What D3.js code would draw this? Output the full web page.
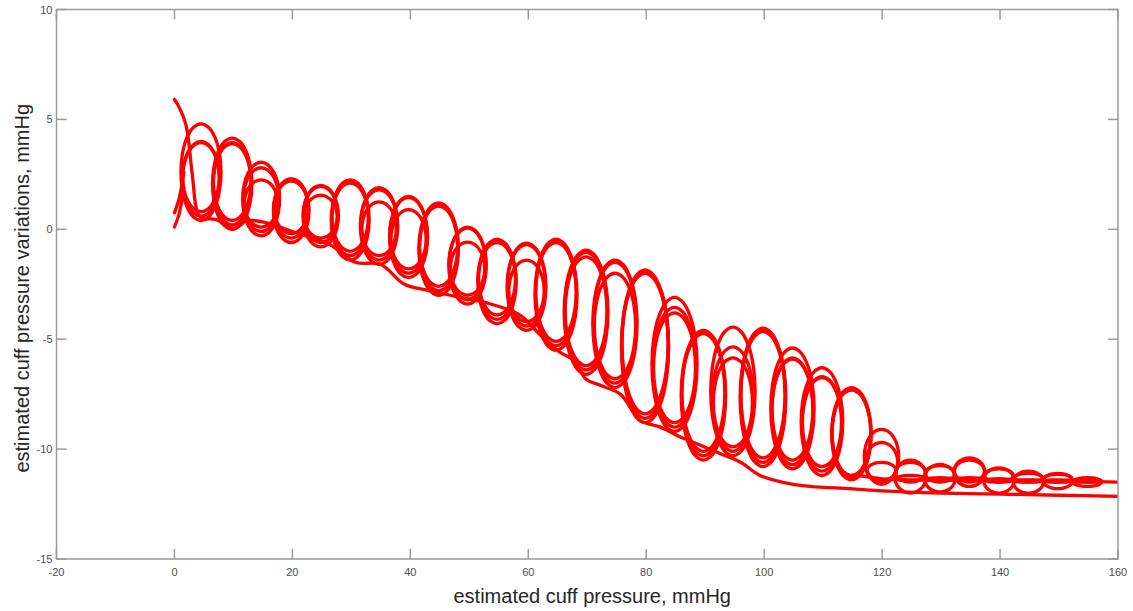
<!DOCTYPE html>
<html>
<head>
<meta charset="utf-8">
<script src="https://cdn.jsdelivr.net/npm/d3@7/dist/d3.min.js"></script>
<style>
  html, body { margin: 0; padding: 0; background: #fff; }
  svg { display: block; }
  .tick-label { font-family: "Liberation Sans", Arial, sans-serif; font-size: 11px; fill: #4d4d4d; }
  .axis-title { font-family: "Liberation Sans", Arial, sans-serif; fill: #262626; }
</style>
</head>
<body>
<svg id="chart" width="1133" height="611"></svg>
<script>
// Cuff pressure (mmHg) at which each beat peaks
const beatPressure = [4.5, 9.8, 14.7, 19.8, 24.8, 29.8, 34.7, 39.7, 44.8, 49.7, 54.7, 59.7, 64.7, 69.8, 74.7,
  79.8, 84.8, 89.7, 94.7, 99.8, 104.8, 109.8, 114.8, 119.9, 124.8, 129.8, 134.8, 139.8, 144.8, 149.8, 154.8];

// Beat maxima for the three recordings (mmHg)
const peakA = [4.8, 4.15, 3.05, 2.3, 2.0, 2.25, 1.9, 1.5, 1.2, 0.1, -0.45, -0.63, -0.45, -0.95, -1.4,
  -1.85, -3.1, -4.6, -4.45, -4.5, -5.4, -6.3, -7.2, -9.1, -10.5, -10.7, -10.4, -10.85, -11.0, -11.1, -11.3];
const peakB = [4.0, 3.95, 2.8, 2.2, 1.95, 2.15, 1.8, 1.45, 1.1, 0.05, -0.55, -0.7, -0.55, -1.05, -1.5,
  -1.95, -3.55, -4.7, -5.35, -4.6, -5.85, -6.7, -7.3, -9.7, -10.6, -10.75, -10.5, -10.9, -11.1, -11.15, -11.35];
const peakC = [3.95, 3.9, 2.25, 2.2, 1.55, 2.1, 1.25, 0.9, 1.05, -0.58, -0.6, -1.4, -0.6, -1.25, -2.0,
  -2.0, -3.8, -4.75, -5.85, -4.65, -5.9, -6.75, -7.3, -10.6, -11.2, -11.3, -11.3, -11.35, -11.4, -11.4, -11.45];

// Beat minima for the three recordings (mmHg)
const troughA = [0.4, 0.0, -0.3, -0.6, -0.8, -1.4, -1.6, -2.2, -3.0, -3.4, -4.3, -4.6, -5.5, -6.6, -7.2,
  -8.8, -9.2, -10.5, -10.3, -10.8, -10.9, -11.2, -11.4, -11.6, -12.0, -11.95, -11.7, -12.0, -12.0, -11.8, -11.7];
const troughB = [0.6, 0.2, -0.1, -0.4, -0.6, -1.2, -1.4, -2.0, -2.8, -3.2, -4.1, -4.4, -5.3, -6.4, -7.0,
  -8.6, -9.0, -10.3, -10.1, -10.6, -10.7, -11.0, -11.3, -11.5, -11.5, -11.5, -11.5, -11.5, -11.5, -11.5, -11.5];
const troughC = [0.8, 0.4, 0.1, -0.2, -0.4, -1.0, -1.2, -1.8, -2.6, -3.0, -3.9, -4.2, -5.1, -6.2, -6.8,
  -8.4, -8.8, -10.1, -9.9, -10.4, -10.5, -10.8, -11.2, -11.4, -11.45, -11.45, -11.45, -11.5, -11.5, -11.5, -11.5];

// Lower envelope recording (starts high at zero cuff pressure)
const floorPressure = [0, 0.5, 1.9, 3.0, 3.9, 4.7, 7, 10, 12.4, 15.8, 20, 26.4, 30.7, 35, 39, 43.4, 48.5, 53.6,
  58.6, 62, 65.4, 68, 69.7, 72.2, 75.6, 79, 82.4, 85.8, 89, 92.5, 96, 99.3, 103, 107.8, 114.6, 120, 130, 140, 150, 160];
const floorValue = [5.9, 5.7, 4.8, 2.55, 0.75, 0.5, 0.45, 0.05, 0.4, 0.28, -0.1, -0.7, -1.5, -1.6, -2.5, -2.8, -3.1, -3.4,
  -3.9, -4.8, -5.6, -6.0, -6.8, -7.1, -7.5, -8.7, -9.0, -9.45, -9.8, -10.2, -10.6, -11.2, -11.5, -11.7, -11.8, -11.9, -12.0, -12.05, -12.1, -12.15];

// Onset of the two pulsatile recordings
const onsetPressure = [0, 0.8, 1.6];
const onsetA = [0.75, 1.4, 2.6];
const onsetB = [0.1, 0.7, 1.9];

// Settled level after the last large beats
const shelfPressure = [116, 120, 130, 140, 150, 160];
const shelfValue = [-11.2, -11.35, -11.4, -11.4, -11.45, -11.5];

const xTicks = [-20, 0, 20, 40, 60, 80, 100, 120, 140, 160];
const yTicks = [-15, -10, -5, 0, 5, 10];

const svg = d3.select("#chart");
const x = d3.scaleLinear().domain([-20, 160]).range([56.5, 1118]);
const y = d3.scaleLinear().domain([-15, 10]).range([559, 9.5]);

svg.append("defs").append("clipPath").attr("id", "plot-clip")
  .append("rect").attr("x", x(-20)).attr("y", y(10))
  .attr("width", x(160) - x(-20)).attr("height", y(-15) - y(10));

const plot = svg.append("g").attr("clip-path", "url(#plot-clip)");
const RED = "#ff0000";
const LW = 3.3;

// One closed elliptical loop per beat; taller beats swing wider and overlap their neighbours
const loopAngles = d3.range(0, 360, 22.5).map(a => a * Math.PI / 180);
function beatLoop(c, top, bot) {
  const mid = (top + bot) / 2, r = (top - bot) / 2;
  const w = Math.min(4.0, 2.3 + 0.25 * (top - bot));
  return loopAngles.map(a => [c + w * Math.sin(a), mid + r * Math.cos(a)]);
}

const loopLine = d3.line().x(d => x(d[0])).y(d => y(d[1])).curve(d3.curveCatmullRomClosed.alpha(0.5));
const openLine = d3.line().x(d => x(d[0])).y(d => y(d[1])).curve(d3.curveCatmullRom.alpha(0.5));

[[peakA, troughA], [peakB, troughB], [peakC, troughC]].forEach(([peaks, troughs]) => {
  plot.append("g").selectAll("path")
    .data(beatPressure.map((c, i) => beatLoop(c, peaks[i], troughs[i])))
    .join("path")
    .attr("d", loopLine)
    .attr("fill", "none")
    .attr("stroke", RED)
    .attr("stroke-width", LW)
    .attr("stroke-linejoin", "round");
});

const openSeries = [
  d3.zip(floorPressure, floorValue),
  d3.zip(onsetPressure, onsetA),
  d3.zip(onsetPressure, onsetB),
  d3.zip(shelfPressure, shelfValue)
];
plot.append("g").selectAll("path")
  .data(openSeries)
  .join("path")
  .attr("d", openLine)
  .attr("fill", "none")
  .attr("stroke", RED)
  .attr("stroke-width", LW)
  .attr("stroke-linecap", "round")
  .attr("stroke-linejoin", "round");

// Axes box with inward ticks on all four sides
const AX = "#9a9a9a";
const TL = 10;
const frame = svg.append("g");
frame.append("rect")
  .attr("x", x(-20)).attr("y", y(10))
  .attr("width", x(160) - x(-20)).attr("height", y(-15) - y(10))
  .attr("fill", "none").attr("stroke", AX).attr("stroke-width", 1.5);

frame.selectAll(".xt").data(xTicks).join("g").each(function (d) {
  const g = d3.select(this);
  g.append("line").attr("x1", x(d)).attr("x2", x(d)).attr("y1", y(-15)).attr("y2", y(-15) - TL)
    .attr("stroke", AX).attr("stroke-width", 1.5);
  g.append("line").attr("x1", x(d)).attr("x2", x(d)).attr("y1", y(10)).attr("y2", y(10) + TL)
    .attr("stroke", AX).attr("stroke-width", 1.5);
  g.append("text").attr("class", "tick-label").attr("x", x(d)).attr("y", y(-15) + 17)
    .attr("text-anchor", "middle").text(d);
});

frame.selectAll(".yt").data(yTicks).join("g").each(function (d) {
  const g = d3.select(this);
  g.append("line").attr("x1", x(-20)).attr("x2", x(-20) + TL).attr("y1", y(d)).attr("y2", y(d))
    .attr("stroke", AX).attr("stroke-width", 1.5);
  g.append("line").attr("x1", x(160)).attr("x2", x(160) - TL).attr("y1", y(d)).attr("y2", y(d))
    .attr("stroke", AX).attr("stroke-width", 1.5);
  g.append("text").attr("class", "tick-label").attr("x", x(-20) - 4).attr("y", y(d) + 4)
    .attr("text-anchor", "end").text(d);
});

svg.append("text").attr("class", "axis-title").attr("font-size", 20)
  .attr("x", (x(-20) + x(160)) / 2 + 5).attr("y", 603)
  .attr("text-anchor", "middle").text("estimated cuff pressure, mmHg");

svg.append("text").attr("class", "axis-title").attr("font-size", 20)
  .attr("transform", `translate(29,${(y(10) + y(-15)) / 2 + 4}) rotate(-90)`)
  .attr("text-anchor", "middle").text("estimated cuff pressure variations, mmHg");
</script>
</body>
</html>
